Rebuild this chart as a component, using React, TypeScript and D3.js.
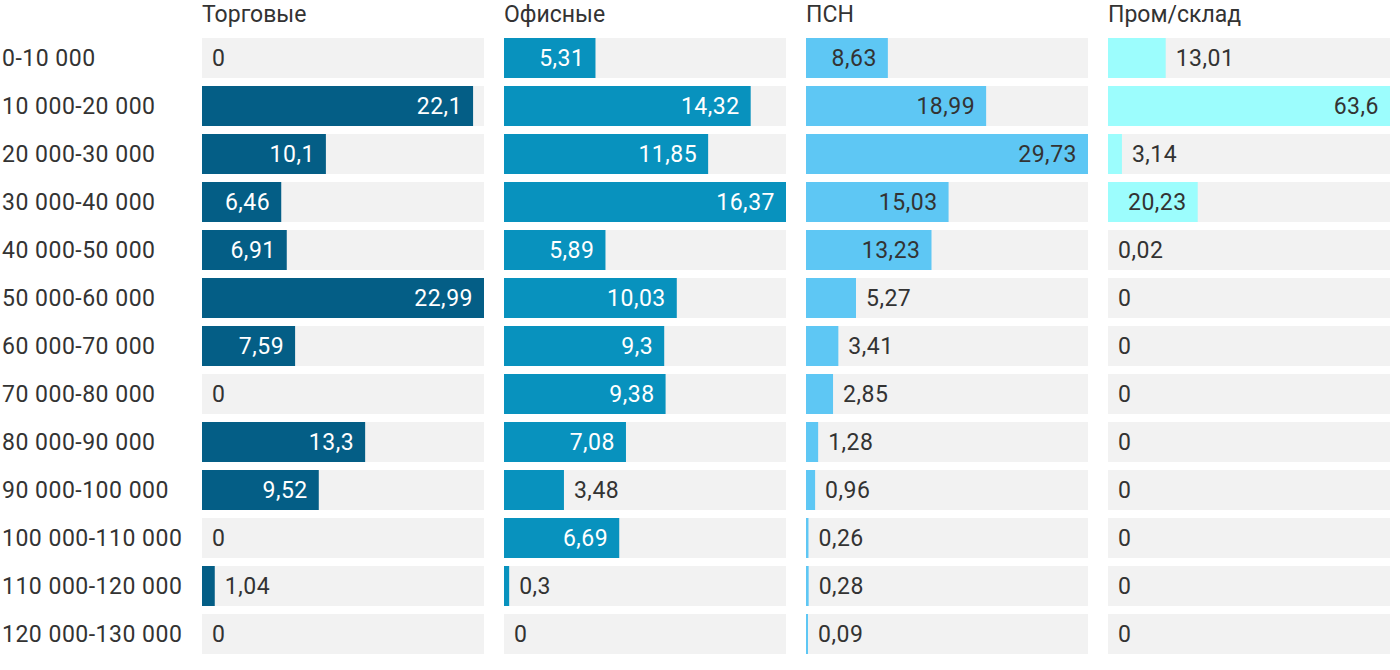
import React, { useEffect, useRef } from "react";
import * as d3 from "d3";

const categories = [
  "0-10 000",
  "10 000-20 000",
  "20 000-30 000",
  "30 000-40 000",
  "40 000-50 000",
  "50 000-60 000",
  "60 000-70 000",
  "70 000-80 000",
  "80 000-90 000",
  "90 000-100 000",
  "100 000-110 000",
  "110 000-120 000",
  "120 000-130 000",
];

const seriesNames = ["Торговые", "Офисные", "ПСН", "Пром/склад"];

const torgovye = [0, 22.1, 10.1, 6.46, 6.91, 22.99, 7.59, 0, 13.3, 9.52, 0, 1.04, 0];
const ofisnye = [5.31, 14.32, 11.85, 16.37, 5.89, 10.03, 9.3, 9.38, 7.08, 3.48, 6.69, 0.3, 0];
const psn = [8.63, 18.99, 29.73, 15.03, 13.23, 5.27, 3.41, 2.85, 1.28, 0.96, 0.26, 0.28, 0.09];
const promSklad = [13.01, 63.6, 3.14, 20.23, 0.02, 0, 0, 0, 0, 0, 0, 0, 0];

const seriesValues = [torgovye, ofisnye, psn, promSklad];

const barColors = ["#045e86", "#0892be", "#5ec7f4", "#9cfdfd"];
const insideText = ["#ffffff", "#ffffff", "#333333", "#333333"];

const fmt = (v: number) => String(v).replace(".", ",");

export default function App() {
  const width = 1400;
  const height = 670;
  const svgRef = useRef<SVGSVGElement>(null);

  useEffect(() => {
    const svg = d3.select(svgRef.current);
    svg.selectAll("*").remove();

    const font = "Roboto, 'Noto Sans', sans-serif";
    const fontSize = 23;
    const spacing = "0.5px";
    const dark = "#333333";

    const panelLeft = 202;
    const panelW = 282;
    const panelGap = 20;
    const top = 38;
    const step = 48;
    const gap = 8;

    const y = d3
      .scaleBand<string>()
      .domain(categories)
      .range([top, top + step * categories.length - gap])
      .paddingInner(gap / step)
      .paddingOuter(0);

    // row labels
    svg
      .append("g")
      .selectAll("text")
      .data(categories)
      .enter()
      .append("text")
      .attr("x", 2)
      .attr("y", (d) => (y(d) ?? 0) + y.bandwidth() / 2)
      .attr("dy", "0.36em")
      .attr("fill", dark)
      .style("font-family", font)
      .style("font-size", `${fontSize}px`)
      .style("letter-spacing", spacing)
      .text((d) => d);

    seriesValues.forEach((vals, si) => {
      const x0 = panelLeft + si * (panelW + panelGap);
      const g = svg.append("g").attr("transform", `translate(${x0},0)`);
      const x = d3
        .scaleLinear()
        .domain([0, d3.max(vals) ?? 1])
        .range([0, panelW]);

      g.append("text")
        .attr("x", 0)
        .attr("y", 22)
        .attr("fill", dark)
        .style("font-family", font)
        .style("font-size", `${fontSize}px`)
        .text(seriesNames[si]);

      const rows = categories.map((c, i) => ({ c, v: vals[i] }));

      g.selectAll(".bg")
        .data(rows)
        .enter()
        .append("rect")
        .attr("x", 0)
        .attr("y", (d) => y(d.c) ?? 0)
        .attr("width", panelW)
        .attr("height", y.bandwidth())
        .attr("fill", "#f2f2f2");

      const barW = (v: number) => {
        const w = x(v);
        return w >= 0.5 ? Math.max(w, 2) : 0;
      };

      g.selectAll(".bar")
        .data(rows)
        .enter()
        .append("rect")
        .attr("x", 0)
        .attr("y", (d) => y(d.c) ?? 0)
        .attr("width", (d) => barW(d.v))
        .attr("height", y.bandwidth())
        .attr("fill", barColors[si]);

      g.selectAll(".lbl")
        .data(rows)
        .enter()
        .append("text")
        .attr("y", (d) => (y(d.c) ?? 0) + y.bandwidth() / 2)
        .attr("dy", "0.36em")
        .style("font-family", font)
        .style("font-size", `${fontSize}px`)
        .style("letter-spacing", spacing)
        .text((d) => fmt(d.v))
        .each(function (d) {
          const t = d3.select(this);
          const tw = (this as SVGTextElement).getComputedTextLength();
          const w = barW(d.v);
          if (w > tw + 20) {
            t.attr("x", w - 11).attr("text-anchor", "end").attr("fill", insideText[si]);
          } else {
            t.attr("x", w + 10).attr("text-anchor", "start").attr("fill", dark);
          }
        });
    });
  }, []);

  return (
    <div style={{ position: "absolute", left: 0, top: 0 }}>
      <svg ref={svgRef} width={width} height={height} style={{ display: "block" }} />
    </div>
  );
}
